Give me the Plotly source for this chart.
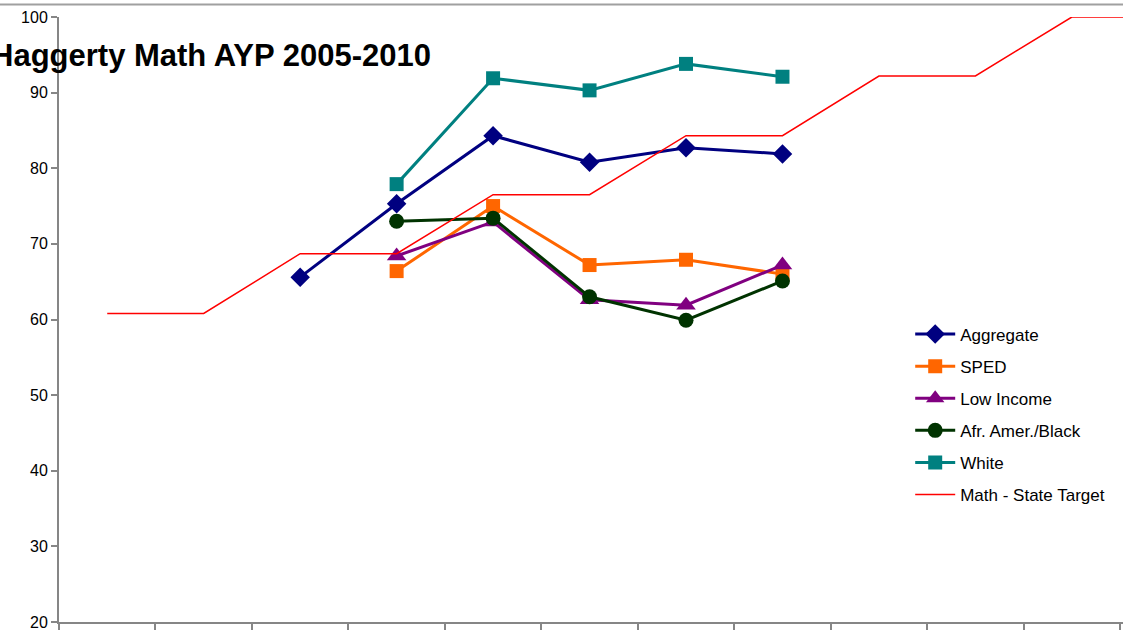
import plotly.graph_objects as go

years = [2003, 2004, 2005, 2006, 2007, 2008, 2009, 2010, 2011, 2012, 2013, 2014]
data_years = [2005, 2006, 2007, 2008, 2009, 2010]
subgroup_years = [2006, 2007, 2008, 2009, 2010]

aggregate = [65.6, 75.3, 84.3, 80.8, 82.7, 81.9]
sped = [66.4, 75.0, 67.2, 67.9, 66.0]
low_income = [68.4, 72.9, 62.6, 61.9, 67.2]
afr_amer = [73.0, 73.4, 63.0, 59.9, 65.1]
white = [77.9, 91.9, 90.3, 93.8, 92.1]
state_target = [60.8, 60.8, 68.7, 68.7, 76.5, 76.5, 84.3, 84.3, 92.2, 92.2, 100, 100]

y_ticks = [20, 30, 40, 50, 60, 70, 80, 90, 100]
x_boundaries = [y - 0.5 for y in years]

FONT = "Liberation Sans"

fig = go.Figure()
series = [
    ("Aggregate", data_years, aggregate, "#000080", "diamond", 15),
    ("SPED", subgroup_years, sped, "#FF6600", "square", 14),
    ("Low Income", subgroup_years, low_income, "#800080", "triangle-up", 17),
    ("Afr. Amer./Black", subgroup_years, afr_amer, "#003300", "circle", 15),
    ("White", subgroup_years, white, "#008080", "square", 14),
]
for name, xs, ys, col, sym, sz in series:
    fig.add_trace(go.Scatter(
        x=xs, y=ys, name=name, mode="lines+markers", legendgroup=name,
        line=dict(color=col, width=3),
        marker=dict(symbol=sym, size=sz, color=col),
        cliponaxis=False,
    ))
fig.add_trace(go.Scatter(
    x=years, y=state_target, name="Math - State Target", mode="lines",
    legendgroup="target", line=dict(color="#FF0000", width=1.5),
))

fig.update_layout(
    width=1123, height=630,
    margin=dict(l=59, r=0, t=17, b=8),
    paper_bgcolor="white", plot_bgcolor="white",
    font=dict(family=FONT, size=16, color="black"),
    showlegend=True,
    legend=dict(
        x=0.8, y=0.505, xanchor="left", yanchor="top",
        font=dict(family=FONT, size=17, color="black"),
        tracegroupgap=7, bgcolor="rgba(0,0,0,0)", itemwidth=40,
    ),
    xaxis=dict(
        range=[2002.5, 2013.53], showgrid=False, zeroline=False,
        showline=True, linecolor="#868686", linewidth=2,
        tickmode="array", tickvals=x_boundaries, showticklabels=False,
        ticks="outside", ticklen=8, tickcolor="#868686", tickwidth=1.5,
    ),
    yaxis=dict(
        range=[20, 100], showgrid=False, zeroline=False,
        showline=True, linecolor="#868686", linewidth=2,
        tickmode="array", tickvals=y_ticks,
        ticks="outside", ticklen=6, tickcolor="#868686", tickwidth=1.5,
        tickfont=dict(family=FONT, size=16, color="black"),
        ticklabeloverflow="allow",
    ),
    shapes=[dict(type="line", xref="paper", yref="paper",
                 x0=-0.06, x1=1, y0=1.0207, y1=1.0207,
                 line=dict(color="#A0A0A0", width=2))],
    annotations=[dict(
        text="<b>Haggerty Math AYP 2005-2010</b>", xref="paper", yref="paper",
        x=0.3515, y=0.937, xanchor="right", yanchor="middle", showarrow=False,
        font=dict(family=FONT, size=31, color="black"),
    )],
)

fig.write_html("out.html", config={"displayModeBar": False},
               post_script="document.body.style.margin='0px';")
